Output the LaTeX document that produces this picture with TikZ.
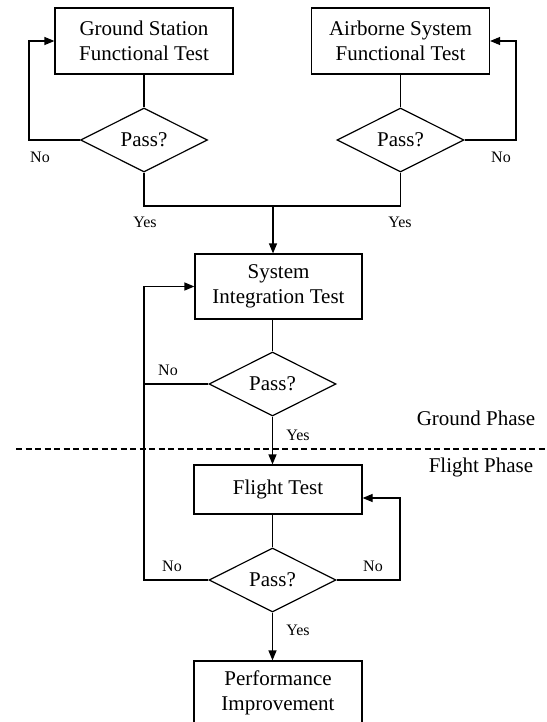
\documentclass[tikz,border=0pt]{standalone}
\usepackage{fontspec}
\setmainfont{Liberation Serif}
\usetikzlibrary{shapes.geometric,arrows.meta}
\begin{document}
\begin{tikzpicture}[x=1pt,y=-1pt,line width=1.2pt]
\useasboundingbox (0,0) rectangle (546,722);

\begin{scope}[every node/.style={draw,rectangle,align=center,inner sep=0pt,
              font=\fontsize{21}{25}\selectfont,minimum width=178pt,minimum height=66pt}]
    \node (gs) at (144,41) {Ground Station\\Functional Test};
    \node (ab) at (400.5,41) {Airborne System\\Functional Test};
    \node[minimum width=167pt,minimum height=65pt] (sit) at (278.5,286.5) {System\\Integration Test};
    \node[minimum width=168pt,minimum height=49pt] (ft) at (278,489.5) {Flight Test};
    \node[minimum width=168pt,minimum height=64pt] (pi) at (278,693) {Performance\\Improvement};
\end{scope}

\begin{scope}[every node/.style={draw,diamond,inner sep=0pt,
              font=\fontsize{21}{25}\selectfont,minimum width=127pt,minimum height=64pt}]
    \node (d1) at (144,140) {Pass?};
    \node (d2) at (400.5,140) {Pass?};
    \node (d3) at (272.5,384) {Pass?};
    \node (d4) at (272.5,580) {Pass?};
\end{scope}

\coordinate (l1) at (29,41);
\coordinate (r2) at (516,41);
\coordinate (m) at (273,206);
\coordinate (l3) at (144,580);
\coordinate (r4) at (400,498);
\coordinate (ds) at (16,449);
\coordinate (de) at (546,449);

\begin{scope}[every node/.style={font=\fontsize{16}{19}\selectfont}]
    \node (no1) at (40,157) {No};
    \node (no2) at (501,157) {No};
    \node (yes1) at (145,222) {Yes};
    \node (yes2) at (400,222) {Yes};
    \node (no3) at (168,370) {No};
    \node (yes3) at (298,435) {Yes};
    \node (no4) at (172,566) {No};
    \node (no5) at (373,566) {No};
    \node (yes4) at (298,630) {Yes};
\end{scope}

\begin{scope}[every node/.style={font=\fontsize{21}{25}\selectfont}]
    \node (gp) at (476,418) {Ground Phase};
    \node (fp) at (481,467) {Flight Phase};
\end{scope}

\begin{scope}[>={Triangle[length=10pt,width=8pt]}]
    \draw[->] (d1.west) -| (l1) -- (gs.west);
    \draw[->] (d2.east) -| (r2) -- (ab.east);
    \draw (gs.south) -- (d1.north);
    \draw (ab.south) -- (d2.north);
    \draw (d1.south) |- (m);
    \draw (d2.south) |- (m);
    \draw[->] (m) -- (m |- sit.north);
    \draw (d3.north |- sit.south) -- (d3.north);
    \draw[->] (d3.south) -- (d3.south |- ft.north);
    \draw (d3.west) -- (d3.west -| l3);
    \draw[->] (d4.west) -- (l3) |- (sit.west);
    \draw (d4.north |- ft.south) -- (d4.north);
    \draw[->] (d4.east) -| (r4) -- (r4 -| ft.east);
    \draw[->] (d4.south) -- (d4.south |- pi.north);
    \draw[dashed,dash pattern=on 6pt off 3.5pt] (ds) -- (de);
\end{scope}
\end{tikzpicture}
\end{document}
